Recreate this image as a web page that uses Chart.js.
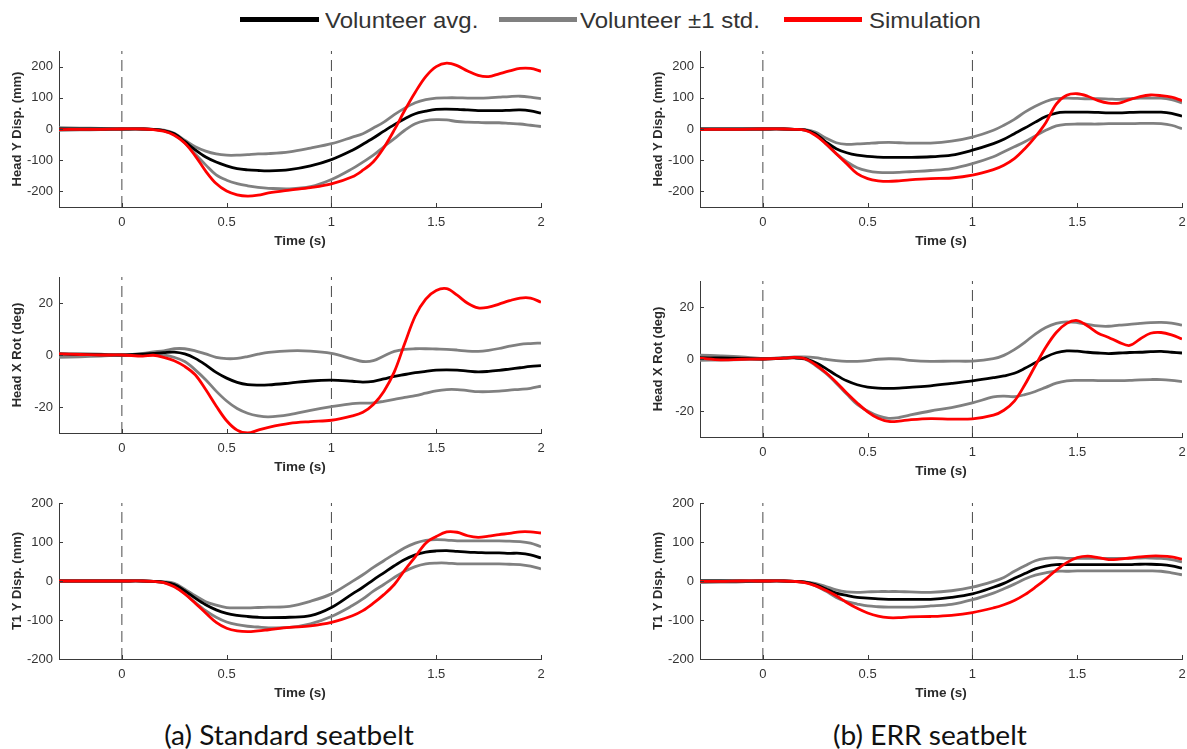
<!DOCTYPE html>
<html>
<head>
<meta charset="utf-8">
<title>Volunteer vs simulation kinematics</title>
<script src="https://cdn.jsdelivr.net/npm/chart.js@4.4.1/dist/chart.umd.min.js"></script>
<style>
  html, body { margin: 0; padding: 0; background: #fff; }
  body { position: relative; width: 1187px; height: 749px; overflow: hidden; }
  canvas { position: absolute; }
  .key { position: absolute; height: 5px; }
  .keytext { position: absolute; font-family: "Liberation Sans", Arial, sans-serif; font-size: 22px; line-height: 1;
             color: #333; white-space: nowrap; transform: scaleX(1.09); transform-origin: 0 0; }
  .caption { position: absolute; width: 420px; text-align: center; font-family: Lato, "Open Sans", sans-serif;
             font-size: 26px; line-height: 1; color: #111; white-space: nowrap;
             transform: scaleX(1.08); transform-origin: 50% 0; }
</style>
</head>
<body>

<div class="key" style="left:240px; top:17px; width:79px; background:#000;"></div>
<div class="keytext" style="left:325px; top:10px;">Volunteer avg.</div>
<div class="key" style="left:499px; top:17px; width:78px; background:#808080;"></div>
<div class="keytext" style="left:580px; top:10px;">Volunteer ±1 std.</div>
<div class="key" style="left:784px; top:17px; width:78px; background:#ff0000;"></div>
<div class="keytext" style="left:869px; top:10px;">Simulation</div>

<canvas id="a1"></canvas>
<canvas id="b1"></canvas>
<canvas id="a2"></canvas>
<canvas id="b2"></canvas>
<canvas id="a3"></canvas>
<canvas id="b3"></canvas>

<div class="caption" style="left:79px; top:722px;">(a) Standard seatbelt</div>
<div class="caption" style="left:720px; top:722px;">(b) ERR seatbelt</div>

<script>
// Sample times (s) shared by every trace
const time = [-0.3, -0.2, -0.1, 0, 0.1,
  0.15, 0.2, 0.25, 0.3, 0.35, 0.4, 0.45,
  0.5, 0.55, 0.6, 0.65, 0.7, 0.8, 0.9,
  1.0, 1.1, 1.15, 1.2, 1.25, 1.3,
  1.35, 1.4, 1.45, 1.5, 1.55, 1.6, 1.65,
  1.7, 1.75, 1.8, 1.85, 1.9, 1.95, 2.0];

// Vertical dashed markers (s)
const eventTimes = [0, 1];

// Axis ticks
const timeTicks = [0, 0.5, 1, 1.5, 2];
const timeTickLabels = ['0', '0.5', '1', '1.5', '2'];
const t1StandardTimeTickLabels = ['0', '0.5', '', '1.5', '2'];
const dispTicks = [-200, -100, 0, 100, 200];
const rotTicks = [-20, 0, 20];

// ---- Standard seatbelt ----
// Head Y displacement (mm)
const stdHeadYAvg   = [0, 0, 0, 0, 0,  -1, -5, -15, -40, -67, -90, -106,  -118, -127, -131, -133, -134, -130, -118,  -98, -68, -49, -29, -7, 14,  33, 49, 57, 63, 64, 63, 61,  59, 59, 59, 60, 61, 58, 51];
const stdHeadYUpper = [4, 3, 2, 0, 0,  -1, -4, -14, -36, -57, -71, -80,  -84, -84, -82, -80, -79, -73, -61,  -47, -26, -15, 3, 22, 46,  67, 84, 94, 99, 100, 100, 99,  99, 100, 102, 104, 105, 102, 97];
const stdHeadYLower = [-4, -3, -2, 0, 0,  -1, -6, -18, -45, -80, -115, -147,  -164, -175, -182, -187, -190, -192, -185,  -162, -127, -106, -84, -57, -31,  -4, 17, 27, 30, 29, 24, 22,  21, 20, 20, 18, 16, 12, 8];
const stdHeadYSim   = [-2, -1, -1, 0, 0,  -2, -7, -20, -45, -86, -135, -175,  -199, -211, -215, -212, -205, -196, -188,  -176, -153, -132, -105, -60, -3,  60, 118, 168, 200, 211, 203, 186,  172, 168, 177, 186, 194, 194, 185];
// Head X rotation (deg)
const stdHeadXAvg   = [0.3, 0.2, 0.1, 0, 0.3,  0.6, 0.9, 1.1, 0.4, -1.3, -3.8, -6.7,  -8.9, -10.5, -11.4, -11.6, -11.5, -10.8, -10.0,  -9.7, -10.1, -10.4, -10.1, -9.2, -8.2,  -7.5, -6.8, -6.3, -5.8, -5.7, -5.8, -6.2,  -6.5, -6.3, -5.9, -5.4, -4.9, -4.4, -4.1];
const stdHeadXUpper = [0.6, 0.5, 0.3, 0, 0.6,  1.2, 1.6, 2.4, 2.4, 1.6, 0.4, -0.9,  -1.4, -1.3, -0.6, 0.3, 1.0, 1.6, 1.5,  0.6, -1.5, -2.5, -2.2, -0.4, 1.4,  2.2, 2.4, 2.4, 2.3, 2.2, 1.9, 1.5,  1.4, 1.8, 2.5, 3.4, 4.1, 4.4, 4.6];
const stdHeadXLower = [-0.9, -0.7, -0.4, 0, 0,  0.1, 0, -0.9, -2.5, -5.7, -9.5, -13.9,  -17.7, -20.6, -22.4, -23.4, -23.8, -22.9, -21.3,  -19.9, -18.7, -18.5, -18.4, -17.8, -17.1,  -16.3, -15.6, -14.7, -13.8, -13.3, -13.3, -13.7,  -14.1, -14.1, -13.9, -13.5, -13.2, -12.8, -12.0];
const stdHeadXSim   = [0.4, 0.2, 0, 0, -0.4,  -0.1, -0.9, -2.2, -4.4, -7.6, -13.3, -19.6,  -25.3, -28.9, -30, -28.9, -27.8, -26.3, -25.6,  -25.1, -23.4, -22, -19, -14, -6.5,  4.5, 15, 21.5, 24.8, 25.5, 23, 19.9,  18.1, 18.4, 19.6, 20.9, 21.9, 21.9, 20.3];
// T1 Y displacement (mm)
const stdT1YAvg     = [0, 0, 0, 0, 0,  -1, -3, -9, -25, -44, -61, -74,  -83, -88, -91, -93, -94, -93, -89,  -68, -33, -16, 3, 21, 39,  55, 67, 74, 77, 78, 76, 74,  73, 72, 72, 71, 71, 67, 59];
const stdT1YUpper   = [0, 0, 0, 0, 0,  -1, -2, -6, -21, -38, -53, -62,  -68, -69, -69, -68, -67, -65, -52,  -33, -1, 16, 35, 52, 69,  85, 97, 104, 106, 105, 103, 103,  103, 103, 103, 102, 101, 97, 88];
const stdT1YLower   = [0, 0, 0, 0, 0,  -1, -4, -13, -32, -55, -76, -93,  -105, -112, -116, -118, -120, -119, -110,  -91, -63, -46, -26, -9, 9,  25, 37, 44, 46, 46, 44, 44,  44, 44, 44, 43, 42, 38, 31];
const stdT1YSim     = [0, 0, 0, 0, 0,  -1, -4, -15, -33, -57, -82, -106,  -121, -128, -130, -128, -125, -119, -115,  -106, -89, -76, -57, -35, -9,  28, 62, 97, 114, 126, 125, 116,  112, 115, 119, 122, 126, 126, 123];

// ---- ERR seatbelt ----
const errHeadYAvg   = [0, 0, 0, 0, 0,  -1, -3, -15, -41, -63, -76, -84,  -88, -90, -91, -91, -91, -89, -84,  -68, -47, -33, -15, 3, 22,  40, 51, 54, 54, 54, 53, 52,  52, 53, 54, 54, 54, 50, 41];
const errHeadYUpper = [0, 0, 0, 0, 0,  -1, -2, -10, -29, -44, -49, -48,  -46, -44, -43, -44, -45, -45, -39,  -26, -4, 12, 31, 54, 73,  88, 97, 99, 98, 97, 97, 96,  95, 97, 99, 99, 99, 94, 84];
const errHeadYLower = [-2, -1, -1, 0, 0,  -1, -4, -16, -47, -79, -105, -124,  -134, -139, -140, -139, -137, -133, -127,  -111, -89, -73, -57, -41, -22,  -4, 10, 15, 16, 16, 16, 17,  17, 17, 18, 18, 17, 12, 1];
const errHeadYSim   = [-2, -1, -1, 0, 0,  -1, -4, -20, -47, -79, -111, -143,  -159, -166, -168, -166, -163, -159, -157,  -148, -130, -116, -95, -63, -25,  20, 80, 108, 113, 105, 91, 83,  83, 94, 104, 109, 107, 102, 91];
const errHeadXAvg   = [0.5, 0.4, 0.2, 0, 0.3,  0.4, 0.1, -1.4, -3.6, -6.2, -8.4, -9.9,  -10.8, -11.2, -11.3, -11.2, -10.9, -10.3, -9.4,  -8.4, -7.2, -6.5, -5.5, -3.6, -1.4,  0.8, 2.4, 3.1, 3.0, 2.6, 2.3, 2.1,  2.3, 2.5, 2.6, 2.8, 2.9, 2.6, 2.3];
const errHeadXUpper = [1.5, 1.2, 0.8, 0.2, 0.5,  0.8, 0.8, 0.5, -0.1, -0.6, -0.9, -0.9,  -0.6, -0.1, 0.1, 0, -0.5, -0.9, -0.8,  -0.8, 0.1, 1.4, 3.6, 6.4, 9.6,  12.1, 13.7, 14.3, 14.0, 13.3, 12.7, 12.6,  13.0, 13.3, 13.7, 14.0, 14.1, 13.8, 13.0];
const errHeadXLower = [-0.5, -0.4, -0.2, 0, 0.4,  0.5, -0.1, -2.4, -5.5, -9.3, -13.5, -17.5,  -20.0, -21.9, -22.8, -22.5, -21.6, -20.0, -18.7,  -16.9, -14.6, -14.3, -14.5, -13.7, -12.5,  -10.9, -9.3, -8.4, -8.2, -8.2, -8.3, -8.3,  -8.3, -8.2, -8.0, -7.9, -7.9, -8.2, -8.7];
const errHeadXSim   = [0.3, -0.3, -0.1, 0, 0.3,  0.6, 0.1, -2.1, -5.2, -8.9, -13.1, -16.9,  -20.3, -22.8, -24.0, -23.9, -23.4, -22.9, -23.1,  -23.0, -21.6, -19.7, -16.2, -9.9, -2.6,  4.5, 10.2, 13.7, 14.8, 12.7, 9.9, 8.3,  6.4, 5.2, 7.7, 9.9, 10.2, 9.3, 7.7];
const errT1YAvg     = [0, 0, 0, 0, 0,  -1, -3, -9, -20, -31, -37, -42,  -44, -46, -47, -47, -47, -47, -42,  -33, -16, -6, 7, 19, 31,  38, 42, 42, 42, 42, 42, 42,  42, 42, 43, 43, 42, 39, 33];
const errT1YUpper   = [1, 1, 0, 0, 0,  -1, -2, -6, -14, -23, -28, -29,  -28, -27, -27, -27, -28, -29, -25,  -16, -1, 9, 25, 39, 52,  58, 60, 58, 58, 58, 58, 58,  58, 58, 59, 59, 58, 55, 49];
const errT1YLower   = [-4, -3, -2, 0, 0,  -1, -3, -12, -26, -42, -53, -59,  -64, -66, -67, -67, -67, -64, -60,  -48, -31, -20, -8, 5, 15,  21, 25, 25, 26, 26, 26, 26,  26, 26, 26, 26, 25, 21, 16];
const errT1YSim     = [-1, -1, 0, 0, 0,  -1, -4, -12, -24, -38, -55, -70,  -82, -90, -94, -94, -92, -91, -88,  -81, -69, -61, -50, -35, -16,  5, 28, 47, 60, 64, 60, 55,  56, 59, 62, 64, 64, 62, 56];

// ---- drawing ----
const FONT = '"Liberation Sans", Arial, Helvetica, sans-serif';
const AXIS_COLOR = '#3a3a3a';
const TEXT_COLOR = '#333333';
const PAD_TOP = 14, Y_AXIS_W = 60, X_AXIS_H = 46, PAD_RIGHT = 22;

// MATLAB-style tick marks pointing into the plot box
const innerTicks = {
  id: 'innerTicks',
  afterDatasetsDraw(chart) {
    const { ctx, chartArea: a, scales: { x, y } } = chart;
    ctx.save();
    ctx.strokeStyle = AXIS_COLOR;
    ctx.lineWidth = 1;
    ctx.beginPath();
    x.ticks.forEach(t => {
      const px = Math.round(x.getPixelForValue(t.value)) + 0.5;
      ctx.moveTo(px, a.bottom); ctx.lineTo(px, a.bottom - 4);
    });
    y.ticks.forEach(t => {
      const py = Math.round(y.getPixelForValue(t.value)) + 0.5;
      ctx.moveTo(a.left, py); ctx.lineTo(a.left + 4, py);
    });
    ctx.stroke();
    ctx.restore();
  }
};

function trace(values, color) {
  return {
    data: time.map((t, i) => ({ x: t, y: values[i] })),
    borderColor: color,
    borderWidth: 2.8,
    pointRadius: 0,
    tension: 0.35,
    fill: false
  };
}

function marker(t, yMin, yMax) {
  return {
    data: [{ x: t, y: yMin }, { x: t, y: yMax }],
    borderColor: '#4a4a4a',
    borderWidth: 1,
    borderDash: [11, 6],
    pointRadius: 0,
    tension: 0,
    fill: false
  };
}

function panel(id, box, yMin, yMax, yTicks, yTitle, set, xLabels) {
  const [L, T, R, B] = box;
  const cv = document.getElementById(id);
  const w = (R - L) + Y_AXIS_W + PAD_RIGHT;
  const h = (B - T) + PAD_TOP + X_AXIS_H;
  cv.width = w; cv.height = h;
  cv.style.left = (L - Y_AXIS_W) + 'px';
  cv.style.top = (T - PAD_TOP) + 'px';
  cv.style.width = w + 'px';
  cv.style.height = h + 'px';

  // first dataset is painted last (on top)
  const datasets = [
    trace(set.sim, '#ff0000'),
    trace(set.avg, '#000000'),
    trace(set.upper, '#808080'),
    trace(set.lower, '#808080'),
    ...eventTimes.map(t => marker(t, yMin, yMax))
  ];

  new Chart(cv, {
    type: 'line',
    data: { datasets },
    options: {
      responsive: false,
      animation: false,
      devicePixelRatio: 1,
      layout: { autoPadding: false, padding: { top: PAD_TOP, right: PAD_RIGHT, left: 0, bottom: 0 } },
      plugins: { legend: { display: false }, tooltip: { enabled: false } },
      scales: {
        x: {
          type: 'linear', min: -0.3, max: 2,
          afterBuildTicks: s => { s.ticks = timeTicks.map(v => ({ value: v })); },
          afterFit: s => { s.height = X_AXIS_H; },
          ticks: {
            autoSkip: false, maxRotation: 0, padding: 8,
            color: TEXT_COLOR, font: { family: FONT, size: 13 },
            callback: (v) => xLabels[timeTicks.indexOf(v)] ?? ''
          },
          grid: { display: true, drawOnChartArea: false, drawTicks: false },
          border: { display: true, color: AXIS_COLOR, width: 1 },
          title: { display: true, text: 'Time (s)', color: '#2b2b2b',
                   font: { family: FONT, size: 13.5, weight: 'bold' }, padding: { top: 0, bottom: 4 } }
        },
        y: {
          type: 'linear', min: yMin, max: yMax,
          afterBuildTicks: s => { s.ticks = yTicks.map(v => ({ value: v })); },
          afterFit: s => { s.width = Y_AXIS_W; },
          ticks: { padding: 6, color: TEXT_COLOR, font: { family: FONT, size: 13 } },
          grid: { display: true, drawOnChartArea: false, drawTicks: false },
          border: { display: true, color: AXIS_COLOR, width: 1 },
          title: { display: true, text: yTitle, color: '#2b2b2b',
                   font: { family: FONT, size: 13, weight: 'bold' }, padding: { top: 11, bottom: 0 } }
        }
      }
    },
    plugins: [innerTicks]
  });
}

panel('a1', [59, 51, 541, 207], -250, 250, dispTicks, 'Head Y Disp. (mm)',
  { avg: stdHeadYAvg, upper: stdHeadYUpper, lower: stdHeadYLower, sim: stdHeadYSim }, timeTickLabels);
panel('b1', [700, 51, 1182, 207], -250, 250, dispTicks, 'Head Y Disp. (mm)',
  { avg: errHeadYAvg, upper: errHeadYUpper, lower: errHeadYLower, sim: errHeadYSim }, timeTickLabels);
panel('a2', [59, 277, 541, 433], -30, 30, rotTicks, 'Head X Rot (deg)',
  { avg: stdHeadXAvg, upper: stdHeadXUpper, lower: stdHeadXLower, sim: stdHeadXSim }, timeTickLabels);
panel('b2', [700, 281, 1182, 437], -30, 30, rotTicks, 'Head X Rot (deg)',
  { avg: errHeadXAvg, upper: errHeadXUpper, lower: errHeadXLower, sim: errHeadXSim }, timeTickLabels);
panel('a3', [59, 503, 541, 659], -200, 200, dispTicks, 'T1 Y Disp. (mm)',
  { avg: stdT1YAvg, upper: stdT1YUpper, lower: stdT1YLower, sim: stdT1YSim }, t1StandardTimeTickLabels);
panel('b3', [700, 503, 1182, 659], -200, 200, dispTicks, 'T1 Y Disp. (mm)',
  { avg: errT1YAvg, upper: errT1YUpper, lower: errT1YLower, sim: errT1YSim }, timeTickLabels);
</script>
</body>
</html>
